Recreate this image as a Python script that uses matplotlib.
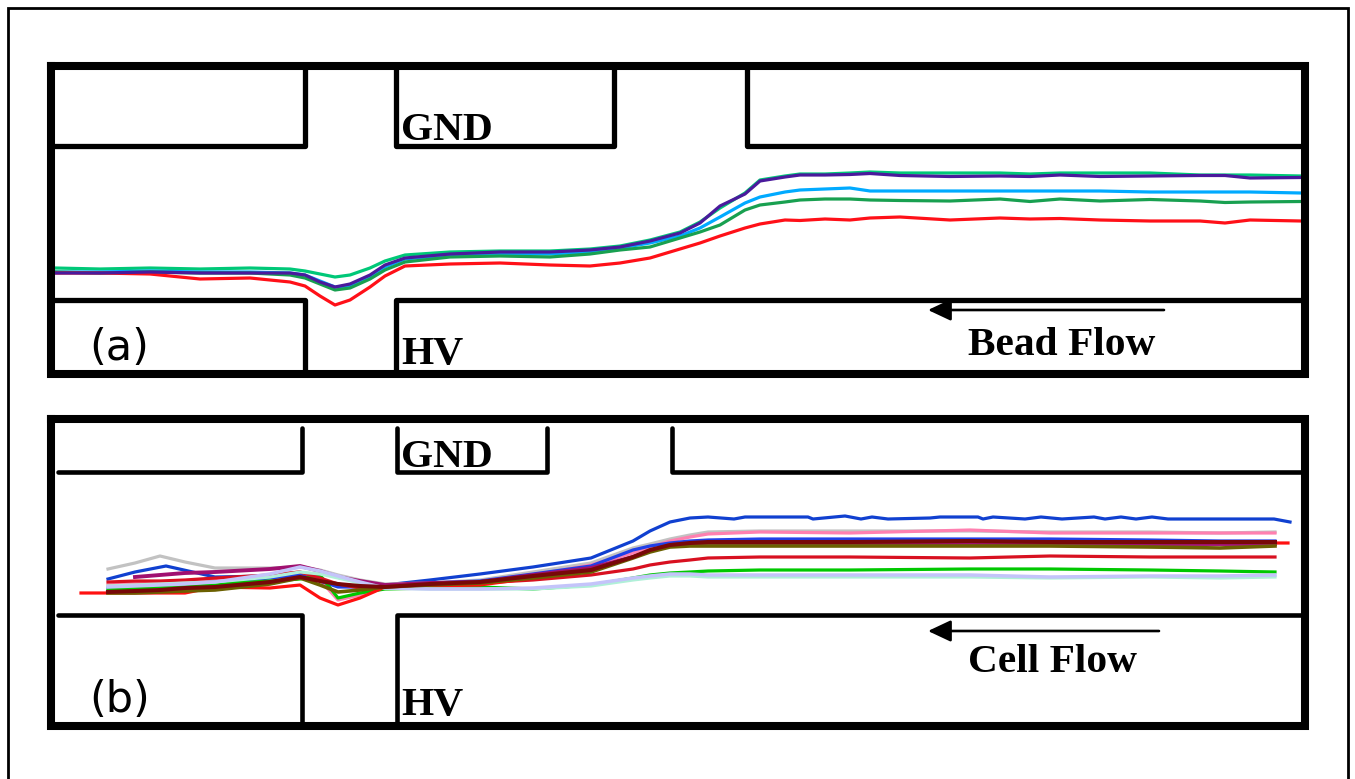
import matplotlib
matplotlib.use('Agg')
import matplotlib.pyplot as plt

# todo en pixeles de la imagen original (1355x779)
W, H = 1355, 779

# panel a: posiciones de cada perfil de particula
a_x = [55, 100, 150, 200, 250, 290, 305, 320, 335, 350, 370, 385, 405, 450, 500, 550, 590, 620, 650, 680, 700, 720, 745, 760, 785, 800, 825, 850, 870, 900, 950, 1000, 1030, 1060, 1100, 1150, 1200, 1225, 1250, 1301]
a_lightgreen = [268, 269, 268, 269, 268, 269, 271, 274, 277, 275, 268, 261, 255, 252, 251, 251, 249, 246, 240, 232, 222, 208, 193, 180, 176, 174, 174, 173, 172, 173, 173, 173, 174, 173, 173, 173, 175, 175, 175, 176]
a_skyblue = [272, 272, 271, 272, 272, 273, 275, 281, 287, 286, 277, 267, 259, 255, 254, 254, 252, 248, 243, 236, 228, 217, 203, 197, 192, 190, 189, 188, 191, 191, 191, 191, 191, 191, 191, 192, 192, 192, 192, 193]
a_green = [272, 273, 272, 273, 273, 275, 278, 284, 290, 288, 279, 270, 262, 257, 256, 257, 254, 250, 247, 238, 232, 225, 210, 205, 202, 200, 199, 199, 200, 200.5, 201, 199, 201.5, 199, 201, 199.5, 201, 202.5, 202, 201.5]
a_red = [273, 273, 274, 279, 278, 282, 286, 296, 305, 300, 287, 276, 266, 264, 263, 265, 266, 263, 258, 249, 243, 236, 228, 224, 220, 220.5, 219, 220, 218, 217, 220, 218, 219, 218.5, 220, 221, 221, 223, 220, 221]
a_purple = [273, 273, 272, 273, 273, 273, 275, 282, 287, 284, 275, 265, 258, 254, 252, 252, 250, 247, 241, 233, 223, 206, 194, 181, 177, 175, 175, 174.5, 173.5, 175.5, 176.5, 176, 176.5, 175, 176.5, 176, 175.5, 175.5, 178, 177.5]
a_series = [a_lightgreen, a_skyblue, a_green, a_red, a_purple]
a_colors = ['#00c878', '#00aaff', '#18a050', '#ff1018', '#4a1a9c']

# panel b
b_x = [108, 135, 160, 185, 215, 270, 300, 320, 338, 360, 385, 430, 480, 533, 591, 633, 650, 670, 690, 708, 760, 850, 970, 1050, 1150, 1220, 1275]
b_gray = [569, 563, 556, 562, 568, 568, 567, 570, 575, 580, 584, 583, 580, 572, 563, 548, 544, 539, 535, 532, 531, 531, 531, 532, 532, 533, 532]
b_pink = [585, 583, 582, 581, 580, 575, 572, 580, 600, 595, 586, 584, 582, 575, 565, 553, 547, 541, 537, 534, 532, 533, 530, 533, 533, 533, 533]
b_blue2 = [588, 587, 586, 584, 582, 578, 575, 581, 587, 587, 586, 583, 581, 574, 566, 550, 546, 543, 541, 540, 539, 539, 539, 539, 540, 541, 541]
b_green = [590, 588, 587, 586, 584, 581, 579, 575, 598, 593, 589, 588, 587, 589, 585, 578, 575, 573, 572, 571, 570, 570, 569, 569, 570, 571, 572]
b_red = [582, 581, 581, 580, 578, 575, 572, 578, 584, 588, 586, 585, 583, 580, 575, 569, 565, 562, 560, 558, 557, 557, 558, 556, 557, 557, 557]
b_reddip = [593, 593, 593, 593, 587, 588, 585, 598, 605, 598, 587, 586, 585, 578, 569, 557, 551, 546, 544, 543, 542, 542, 542, 542, 543, 543, 543]
b_magenta = [None, 577, 575, 573, 572, 569, 566, 571, 577, 581, 585, 583, 582, 575, 568, 557, 551, 545, 544, 543, 543, 543, 543, 543, 544, 544, 544]
b_mint = [586, 585, 584, 583, 582, 577, 572, 574, 578, 583, 588, 589, 589, 589, 586, 580, 578, 576, 576, 577, 577, 577, 577, 578, 577, 578, 577]
b_lavender = [587, 586, 585, 584, 582, 574, 567, 571, 576, 582, 588, 589, 589, 588, 584, 578, 576, 574, 574, 575, 575, 575, 575, 577, 576, 576, 575]
b_olive = [593, 593, 592, 591, 590, 584, 578, 585, 592, 590, 587, 585, 583, 578, 572, 558, 552, 547, 546, 546, 546, 546, 546, 546, 547, 548, 546]
b_maroon = [592, 591, 590, 588, 587, 582, 577, 581, 584, 586, 587, 584, 582, 576, 570, 557, 550, 545, 543, 542, 542, 542, 541, 542, 542, 542, 542]
b_series = [b_gray, b_pink, b_blue2, b_green, b_red, b_reddip, b_magenta, b_mint, b_lavender, b_olive, b_maroon]
b_colors = ['#c2c2c2', '#ff80b0', '#2040e8', '#00c800', '#d81020', '#ff1010', '#a01070', '#b0f0d8', '#c4c4fa', '#6b6000', '#780808']
b_widths = [2.3, 2.3, 2.3, 2.3, 2.3, 2.3, 2.8, 2.3, 2.5, 2.6, 2.9]
b_reddip_x0 = 81
b_reddip_y0 = 593
b_red_end = (1288, 543)

# la azul de arriba tiene mas detalle
b_blue_x = [108, 135, 166, 215, 270, 300, 320, 338, 360, 385, 430, 480, 533, 591, 633, 650, 670, 690, 708, 734, 745, 808, 813, 845, 861, 872, 888, 930, 940, 978, 983, 993, 1025, 1041, 1062, 1094, 1105, 1121, 1136, 1152, 1168, 1274, 1290]
b_blue = [579, 572, 566, 577, 576, 575, 580, 586, 586, 585, 580, 574, 567, 558, 541, 531, 522, 518, 517, 519, 517, 517, 519, 516, 519, 517, 519, 518, 517, 517, 519, 517, 519, 517, 519, 517, 519, 517, 519, 517, 519, 519, 522]

# paredes del canal: (xs, ys)
a_walls = [([51, 304.5, 304.5], [146, 146, 66]),
           ([396, 396, 613.5, 613.5], [66, 146, 146, 66]),
           ([747, 747, 1305], [66, 146, 146]),
           ([51, 304.5, 304.5], [299.5, 299.5, 374]),
           ([396, 396, 1305], [374, 299.5, 299.5])]
b_walls = [([58, 302, 302], [471.5, 471.5, 428]),
           ([397, 397, 547, 547], [428, 471.5, 471.5, 428]),
           ([672, 672, 1301], [428, 471.5, 471.5]),
           ([58, 302, 302], [614.5, 614.5, 726]),
           ([397, 397, 1305], [726, 614.5, 614.5])]

fig = plt.figure(figsize=(W / 100, H / 100), dpi=100)
ax = fig.add_axes([0, 0, 1, 1])
ax.set_xlim(0, W)
ax.set_ylim(H, 0)
ax.axis('off')

# borde exterior (sin linea abajo)
ax.plot([7.5, 7.5, 1347.5, 1347.5], [H, 8, 8, H], color='black', lw=2.0, solid_joinstyle='miter')

for i in range(len(a_series)):
  ax.plot(a_x, a_series[i], color=a_colors[i], lw=2.3, solid_joinstyle='round', zorder=3)

ax.plot(b_blue_x, b_blue, color='#1040d0', lw=2.3, solid_joinstyle='round', zorder=3)
for i in range(len(b_series)):
  xs = [x for x, y in zip(b_x, b_series[i]) if y is not None]
  ys = [y for y in b_series[i] if y is not None]
  if b_series[i] is b_reddip:
    xs = [b_reddip_x0] + xs + [b_red_end[0]]
    ys = [b_reddip_y0] + ys + [b_red_end[1]]
  ax.plot(xs, ys, color=b_colors[i], lw=b_widths[i], solid_joinstyle='round', zorder=3)

for xs, ys in a_walls:
  ax.plot(xs, ys, color='black', lw=3.8, solid_capstyle='round', solid_joinstyle='round', zorder=4)
for xs, ys in b_walls:
  ax.plot(xs, ys, color='black', lw=3.3, solid_capstyle='round', solid_joinstyle='round', zorder=4)

# marcos de los dos paneles
ax.plot([51, 1305, 1305, 51, 51], [66, 66, 374, 374, 66], color='black', lw=5.8, solid_joinstyle='miter', solid_capstyle='projecting', zorder=5)
ax.plot([51, 1305, 1305, 51, 51], [419, 419, 726, 726, 419], color='black', lw=5.8, solid_joinstyle='miter', solid_capstyle='projecting', zorder=5)

serif = {'family': 'Liberation Serif', 'weight': 'bold', 'size': 29.8, 'va': 'baseline', 'color': 'black', 'zorder': 6}
ax.text(401, 140, 'GND', **serif)
ax.text(401, 364, 'HV', **serif)
ax.text(968, 355, 'Bead Flow', **serif)
ax.text(401, 467, 'GND', **serif)
ax.text(401, 715, 'HV', **serif)
ax.text(968, 672, 'Cell Flow', **serif)

ax.text(89, 360, '(a)', family='DejaVu Sans', size=31, va='baseline', zorder=4)
ax.text(89, 712, '(b)', family='DejaVu Sans', size=31, va='baseline', zorder=4)

for x0, y0 in [(1164, 310), (1159, 631)]:
  ax.annotate('', xy=(928, y0), xytext=(x0, y0),
              arrowprops=dict(arrowstyle='-|>,head_length=1.0,head_width=0.47', color='black', lw=1.9, mutation_scale=14, shrinkA=0, shrinkB=0), zorder=6)

fig.savefig('out.png', dpi=100, facecolor='white')
